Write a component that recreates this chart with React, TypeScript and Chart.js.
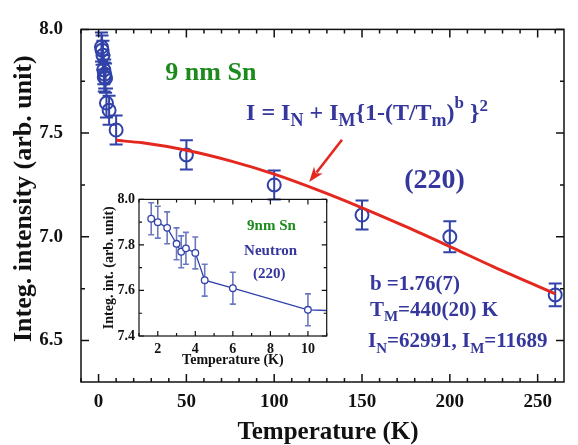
import { useEffect, useRef } from "react";
import { Chart, registerables } from "chart.js";

Chart.register(...registerables);

// Integrated (220) intensity of 9 nm Sn versus temperature
const tempK = [1.65, 2, 2.5, 3, 3.25, 3.5, 4, 4.5, 6, 10, 50, 100, 150, 200, 260];
const intensity = [7.915, 7.9, 7.875, 7.805, 7.77, 7.785, 7.765, 7.645, 7.61, 7.515, 7.395, 7.25, 7.105, 7.0, 6.72];
const intensityErr = [0.07, 0.07, 0.07, 0.07, 0.07, 0.07, 0.07, 0.07, 0.07, 0.07, 0.07, 0.07, 0.07, 0.075, 0.055];

// Fitted curve I = I_N + I_M{1-(T/T_m)^b}^2
const fitTempK = [10, 25, 50, 75, 100, 125, 150, 175, 200, 225, 260];
const fitIntensity = [7.465, 7.453, 7.417, 7.366, 7.302, 7.225, 7.14, 7.049, 6.953, 6.855, 6.725];

const mainXTicks = [0, 50, 100, 150, 200, 250];
const mainYTicks = [6.5, 7.0, 7.5, 8.0];
const insetXTicks = [2, 4, 6, 8, 10];
const insetYTicks = [7.4, 7.6, 7.8, 8.0];

const SERIF = '"Liberation Serif", "Times New Roman", Times, serif';
const BLUE = "#3142a8";
const TEXT_BLUE = "#35379d";
const GREEN = "#1c8a1c";
const RED = "#e5281f";
const INK = "#111";

type Run = { text: string; size: number; dy?: number };
type Note = { x: number; y: number; color: string; runs: Run[] };

const mainNotes: Note[] = [
  { x: 38, y: 7.757, color: GREEN, runs: [{ text: "9 nm Sn", size: 26 }] },
  {
    x: 84, y: 7.565, color: TEXT_BLUE,
    runs: [
      { text: "I = I", size: 24 },
      { text: "N", size: 18, dy: 6 },
      { text: " + I", size: 24 },
      { text: "M", size: 18, dy: 6 },
      { text: "{1-(T/T", size: 24 },
      { text: "m", size: 18, dy: 6 },
      { text: ")", size: 24 },
      { text: "b", size: 17, dy: -12 },
      { text: " }", size: 24 },
      { text: "2", size: 17, dy: -9 },
    ],
  },
  { x: 174, y: 7.236, color: TEXT_BLUE, runs: [{ text: "(220)", size: 28 }] },
  { x: 154.5, y: 6.745, color: TEXT_BLUE, runs: [{ text: "b =1.76(7)", size: 21 }] },
  {
    x: 154.5, y: 6.62, color: TEXT_BLUE,
    runs: [
      { text: "T", size: 21 },
      { text: "M", size: 15, dy: 5 },
      { text: "=440(20) K", size: 21 },
    ],
  },
  {
    x: 153.4, y: 6.468, color: TEXT_BLUE,
    runs: [
      { text: "I", size: 21 },
      { text: "N", size: 15, dy: 6 },
      { text: "=62991, I", size: 21 },
      { text: "M", size: 15, dy: 6 },
      { text: "=11689", size: 21 },
    ],
  },
];

const insetNotes: Note[] = [
  { x: 6.76, y: 7.867, color: GREEN, runs: [{ text: "9nm Sn", size: 15 }] },
  { x: 6.6, y: 7.755, color: TEXT_BLUE, runs: [{ text: "Neutron", size: 15 }] },
  { x: 7.08, y: 7.656, color: TEXT_BLUE, runs: [{ text: "(220)", size: 15 }] },
];

// arrow pointing from the formula to the fitted curve, in data units
const arrowFrom = { x: 138.6, y: 7.468 };
const arrowTo = { x: 119.9, y: 7.264 };

function errorBarsPlugin(color: string, width: number, cap: number) {
  return {
    id: "errorBars",
    beforeDatasetsDraw(chart: any) {
      const { ctx, chartArea: a, scales } = chart;
      const x = scales.x;
      const y = scales.y;
      ctx.save();
      ctx.beginPath();
      ctx.rect(a.left, a.top, a.right - a.left, a.bottom - a.top);
      ctx.clip();
      ctx.strokeStyle = color;
      ctx.lineWidth = width;
      ctx.beginPath();
      tempK.forEach((t, i) => {
        const px = x.getPixelForValue(t);
        const top = y.getPixelForValue(intensity[i] + intensityErr[i]);
        const bot = y.getPixelForValue(intensity[i] - intensityErr[i]);
        ctx.moveTo(px, top);
        ctx.lineTo(px, bot);
        ctx.moveTo(px - cap, top);
        ctx.lineTo(px + cap, top);
        ctx.moveTo(px - cap, bot);
        ctx.lineTo(px + cap, bot);
      });
      ctx.stroke();
      ctx.restore();
    },
  };
}

function framePlugin(xMinor: number, yMinor: number, majorLen: number, minorLen: number, lineW: number) {
  return {
    id: "frameTicks",
    afterDatasetsDraw(chart: any) {
      const { ctx, chartArea: a, scales } = chart;
      const x = scales.x;
      const y = scales.y;
      const xMajor = x.ticks.map((t: any) => t.value);
      const yMajor = y.ticks.map((t: any) => t.value);
      const isMajor = (list: number[], v: number) => list.some((m) => Math.abs(m - v) < 1e-6);
      ctx.save();
      ctx.strokeStyle = INK;
      ctx.lineWidth = lineW;
      ctx.beginPath();
      for (let i = Math.ceil(x.min / xMinor - 1e-9); i * xMinor <= x.max + 1e-9; i++) {
        const v = i * xMinor;
        const len = isMajor(xMajor, v) ? majorLen : minorLen;
        const px = x.getPixelForValue(v);
        ctx.moveTo(px, a.bottom);
        ctx.lineTo(px, a.bottom - len);
        ctx.moveTo(px, a.top);
        ctx.lineTo(px, a.top + len);
      }
      for (let i = Math.ceil(y.min / yMinor - 1e-9); i * yMinor <= y.max + 1e-9; i++) {
        const v = i * yMinor;
        const len = isMajor(yMajor, v) ? majorLen : minorLen;
        const py = y.getPixelForValue(v);
        ctx.moveTo(a.left, py);
        ctx.lineTo(a.left + len, py);
        ctx.moveTo(a.right, py);
        ctx.lineTo(a.right - len, py);
      }
      ctx.stroke();
      ctx.strokeRect(a.left, a.top, a.right - a.left, a.bottom - a.top);
      ctx.restore();
    },
  };
}

// axis titles of the main panel, placed a little off the plot centre
function axisTitlesPlugin(xTitle: string, yTitle: string) {
  return {
    id: "axisTitles",
    afterDraw(chart: any) {
      const { ctx, chartArea: a, height } = chart;
      ctx.save();
      ctx.fillStyle = INK;
      ctx.textAlign = "center";
      ctx.textBaseline = "alphabetic";
      ctx.font = `bold 25px ${SERIF}`;
      ctx.fillText(xTitle, (a.left + a.right) / 2 + 5.5, height - 6);
      ctx.translate(31, (a.top + a.bottom) / 2 - 7);
      ctx.rotate(-Math.PI / 2);
      ctx.font = `bold 26px ${SERIF}`;
      ctx.fillText(yTitle, 0, 0);
      ctx.restore();
    },
  };
}

function notesPlugin(notes: Note[], arrow?: { from: { x: number; y: number }; to: { x: number; y: number } }) {
  return {
    id: "notes",
    afterDraw(chart: any) {
      const { ctx, scales } = chart;
      const x = scales.x;
      const y = scales.y;
      ctx.save();
      ctx.textBaseline = "alphabetic";
      ctx.textAlign = "left";
      for (const n of notes) {
        let cx = x.getPixelForValue(n.x);
        const cy = y.getPixelForValue(n.y);
        ctx.fillStyle = n.color;
        for (const r of n.runs) {
          ctx.font = `bold ${r.size}px ${SERIF}`;
          ctx.fillText(r.text, cx, cy + (r.dy || 0));
          cx += ctx.measureText(r.text).width;
        }
      }
      if (arrow) {
        const x0 = x.getPixelForValue(arrow.from.x);
        const y0 = y.getPixelForValue(arrow.from.y);
        const x1 = x.getPixelForValue(arrow.to.x);
        const y1 = y.getPixelForValue(arrow.to.y);
        const ang = Math.atan2(y1 - y0, x1 - x0);
        const headLen = 15;
        const headHalf = 5.5;
        const bx = x1 - headLen * Math.cos(ang);
        const by = y1 - headLen * Math.sin(ang);
        ctx.strokeStyle = RED;
        ctx.fillStyle = RED;
        ctx.lineWidth = 2.6;
        ctx.beginPath();
        ctx.moveTo(x0, y0);
        ctx.lineTo(bx + 3 * Math.cos(ang), by + 3 * Math.sin(ang));
        ctx.stroke();
        ctx.beginPath();
        ctx.moveTo(x1, y1);
        ctx.lineTo(bx + headHalf * Math.sin(ang), by - headHalf * Math.cos(ang));
        ctx.lineTo(bx + 4 * Math.cos(ang), by + 4 * Math.sin(ang));
        ctx.lineTo(bx - headHalf * Math.sin(ang), by + headHalf * Math.cos(ang));
        ctx.closePath();
        ctx.fill();
      }
      ctx.restore();
    },
  };
}

function mainConfig(): any {
  return {
    type: "line",
    data: {
      datasets: [
        {
          label: "fit",
          data: fitTempK.map((t, i) => ({ x: t, y: fitIntensity[i] })),
          borderColor: RED,
          borderWidth: 3,
          pointRadius: 0,
          cubicInterpolationMode: "monotone",
          fill: false,
        },
        {
          label: "9 nm Sn (220)",
          data: tempK.map((t, i) => ({ x: t, y: intensity[i] })),
          showLine: false,
          pointRadius: 6.5,
          pointBorderWidth: 2,
          pointBorderColor: BLUE,
          pointBackgroundColor: "rgba(0,0,0,0)",
          borderColor: BLUE,
        },
      ],
    },
    options: {
      responsive: false,
      animation: false,
      devicePixelRatio: 1,
      layout: { padding: { top: 15, right: 14, left: 0, bottom: 0 } },
      plugins: { legend: { display: false }, tooltip: { enabled: false } },
      scales: {
        x: {
          type: "linear",
          min: -10,
          max: 265,
          grid: { display: false, drawTicks: false },
          border: { display: false },
          afterBuildTicks: (s: any) => {
            s.ticks = mainXTicks.map((v) => ({ value: v }));
          },
          afterFit: (s: any) => {
            s.height = 63;
          },
          ticks: {
            font: { family: SERIF, size: 19, weight: "bold" },
            color: INK,
            padding: 9,
            maxRotation: 0,
            autoSkip: false,
          },
          title: { display: false },
        },
        y: {
          type: "linear",
          min: 6.3,
          max: 8.0,
          grid: { display: false, drawTicks: false },
          border: { display: false },
          afterBuildTicks: (s: any) => {
            s.ticks = mainYTicks.map((v) => ({ value: v }));
          },
          afterFit: (s: any) => {
            s.width = 81;
          },
          ticks: {
            font: { family: SERIF, size: 19, weight: "bold" },
            color: INK,
            padding: 18,
            autoSkip: false,
            callback: (v: any) => Number(v).toFixed(1),
          },
          title: { display: false },
        },
      },
    },
    plugins: [
      errorBarsPlugin(BLUE, 2, 6.5),
      framePlugin(10, 0.25, 8, 4, 1.5),
      axisTitlesPlugin("Temperature (K)", "Integ. intensity (arb. unit)"),
      notesPlugin(mainNotes, { from: arrowFrom, to: arrowTo }),
    ],
  };
}

function insetConfig(): any {
  return {
    type: "line",
    data: {
      datasets: [
        {
          label: "Neutron (220)",
          data: tempK.map((t, i) => ({ x: t, y: intensity[i] })),
          borderColor: BLUE,
          borderWidth: 1.3,
          pointRadius: 3.3,
          pointBorderWidth: 1.3,
          pointBorderColor: BLUE,
          pointBackgroundColor: "#fff",
          tension: 0,
          fill: false,
        },
      ],
    },
    options: {
      responsive: false,
      animation: false,
      devicePixelRatio: 1,
      layout: { padding: { top: 10, right: 5, left: 0, bottom: 0 } },
      plugins: { legend: { display: false }, tooltip: { enabled: false } },
      scales: {
        x: {
          type: "linear",
          min: 1,
          max: 11,
          grid: { display: false, drawTicks: false },
          border: { display: false },
          afterBuildTicks: (s: any) => {
            s.ticks = insetXTicks.map((v) => ({ value: v }));
          },
          afterFit: (s: any) => {
            s.height = 31;
          },
          ticks: {
            font: { family: SERIF, size: 14, weight: "bold" },
            color: INK,
            padding: 5,
            maxRotation: 0,
            autoSkip: false,
          },
          title: {
            display: true,
            text: "Temperature (K)",
            color: INK,
            font: { family: SERIF, size: 14, weight: "bold", lineHeight: 1 },
            padding: { top: 0, bottom: 0 },
          },
        },
        y: {
          type: "linear",
          min: 7.4,
          max: 8.0,
          grid: { display: false, drawTicks: false },
          border: { display: false },
          afterBuildTicks: (s: any) => {
            s.ticks = insetYTicks.map((v) => ({ value: v }));
          },
          afterFit: (s: any) => {
            s.width = 39;
          },
          ticks: {
            font: { family: SERIF, size: 14, weight: "bold" },
            color: INK,
            padding: 4,
            autoSkip: false,
            callback: (v: any) => Number(v).toFixed(1),
          },
          title: {
            display: true,
            text: "Integ. int. (arb. unit)",
            color: INK,
            font: { family: SERIF, size: 14, weight: "bold", lineHeight: 1 },
            padding: { top: 2, bottom: 0 },
          },
        },
      },
    },
    plugins: [
      errorBarsPlugin("rgba(70,88,175,0.8)", 1.6, 3),
      framePlugin(1, 0.1, 5, 3, 1.2),
      notesPlugin(insetNotes),
    ],
  };
}

export default function App() {
  const mainRef = useRef<HTMLCanvasElement>(null);
  const insetRef = useRef<HTMLCanvasElement>(null);

  useEffect(() => {
    document.body.style.margin = "0";
    const main = new Chart(mainRef.current as HTMLCanvasElement, mainConfig());
    const inset = new Chart(insetRef.current as HTMLCanvasElement, insetConfig());
    return () => {
      main.destroy();
      inset.destroy();
    };
  }, []);

  return (
    <div style={{ position: "absolute", left: 0, top: 0, width: 578, height: 445, background: "#fff" }}>
      <canvas
        ref={mainRef}
        width={578}
        height={445}
        style={{ position: "absolute", left: 0, top: 0, width: 578, height: 445 }}
      />
      <canvas
        ref={insetRef}
        width={232}
        height={180}
        style={{ position: "absolute", left: 100, top: 187, width: 232, height: 180 }}
      />
    </div>
  );
}
